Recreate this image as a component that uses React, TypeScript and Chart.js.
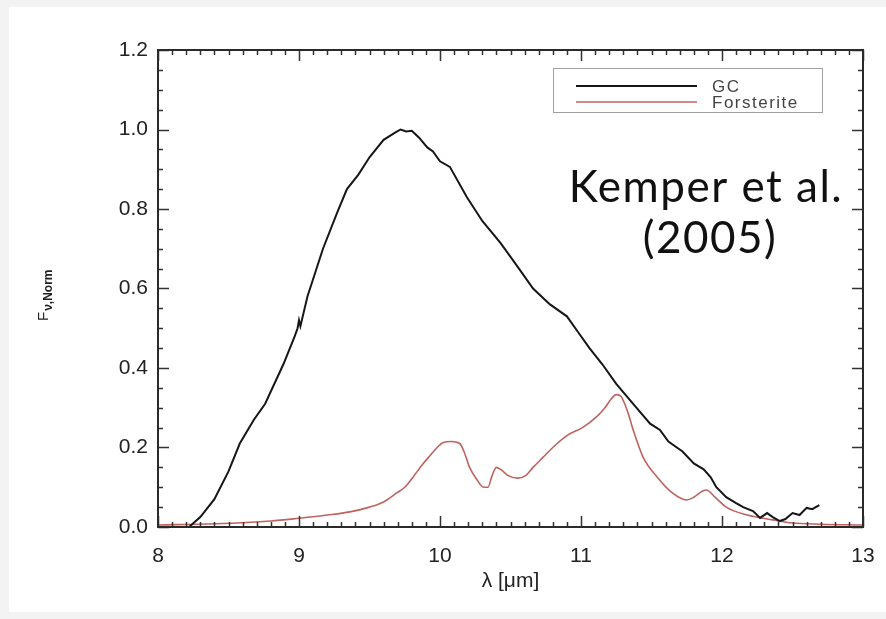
import React, { useEffect, useRef } from 'react';
import { Chart, registerables } from 'chart.js';

Chart.register(...registerables);

const gcWavelength = [
  8.22, 8.3, 8.4, 8.5, 8.58, 8.68, 8.76, 8.89, 8.97, 8.99, 9.0, 9.01, 9.06, 9.17, 9.27, 9.34, 9.42, 9.5,
  9.6, 9.69, 9.72, 9.76, 9.8, 9.85, 9.91, 9.95, 10.0, 10.07, 10.19, 10.3, 10.43, 10.55, 10.66, 10.78,
  10.9, 10.98, 11.06, 11.15, 11.25, 11.37, 11.49, 11.56, 11.62, 11.72, 11.8, 11.87, 11.92, 11.96, 12.03,
  12.1, 12.15, 12.22, 12.27, 12.32, 12.36, 12.41, 12.45, 12.5, 12.55, 12.6, 12.64, 12.69,
];
const gcFlux = [
  0.0, 0.025, 0.07, 0.14, 0.21, 0.27, 0.31, 0.41, 0.48, 0.5, 0.52, 0.505, 0.58, 0.7, 0.79, 0.85, 0.886, 0.93,
  0.974, 0.994, 1.0, 0.995, 0.997, 0.98, 0.955, 0.945, 0.92, 0.906, 0.83, 0.77, 0.714, 0.655, 0.6, 0.56,
  0.53, 0.49, 0.45, 0.41, 0.36, 0.31, 0.26, 0.244, 0.215, 0.19, 0.16, 0.145, 0.125, 0.1, 0.075,
  0.06, 0.05, 0.04, 0.023, 0.035, 0.025, 0.015, 0.02, 0.035, 0.03, 0.048, 0.045, 0.055,
];

const forsteriteWavelength = [
  8.0, 8.4, 8.8, 9.0, 9.2, 9.36, 9.5, 9.6, 9.69, 9.75, 9.81, 9.87, 9.93, 9.98, 10.02, 10.08, 10.14, 10.17,
  10.21, 10.26, 10.31, 10.34, 10.37, 10.4, 10.43, 10.48, 10.55, 10.61, 10.66, 10.73, 10.8, 10.9, 11.01,
  11.11, 11.17, 11.21, 11.25, 11.28, 11.31, 11.34, 11.37, 11.44, 11.54, 11.65, 11.75, 11.8, 11.86, 11.89,
  11.95, 12.03, 12.18, 12.36, 12.5, 12.7, 13.0,
];
const forsteriteFlux = [
  0.005, 0.008, 0.015, 0.022, 0.03, 0.038, 0.05, 0.063, 0.085, 0.1, 0.126, 0.155, 0.18, 0.2, 0.212, 0.215, 0.21, 0.19,
  0.15, 0.12, 0.1, 0.1, 0.13, 0.15, 0.145, 0.13, 0.123, 0.13, 0.15, 0.175, 0.2, 0.23, 0.25,
  0.277, 0.3, 0.32, 0.333, 0.33, 0.31, 0.28, 0.244, 0.176, 0.126, 0.085, 0.068, 0.075, 0.09, 0.093,
  0.075, 0.05, 0.03, 0.018, 0.01, 0.007, 0.005,
];

const xTickValues = [8, 9, 10, 11, 12, 13];
const yTickValues = [0, 0.2, 0.4, 0.6, 0.8, 1.0, 1.2];
const seriesLabels = ['GC', 'Forsterite'];
const seriesColors = ['#161616', '#c0625e'];
const annotationLines = ['Kemper et al.', '(2005)'];
const xTitle = 'λ [μm]';
const yTitleMain = 'F';
const yTitleSub = 'ν,Norm';

const SANS = '"Liberation Sans", Arial, Helvetica, sans-serif';

export default function App() {
  const ref = useRef<HTMLCanvasElement>(null);

  useEffect(() => {
    if (!ref.current) return;

    const decor = {
      id: 'decor',
      beforeDraw(chart: any) {
        const ctx = chart.ctx;
        ctx.save();
        ctx.fillStyle = '#f3f3f3';
        ctx.fillRect(0, 0, chart.width, chart.height);
        ctx.fillStyle = '#ffffff';
        ctx.fillRect(9, 7, chart.width - 9, chart.height - 14);
        ctx.restore();
      },
      afterDraw(chart: any) {
        const ctx = chart.ctx;
        const { left, right, top, bottom } = chart.chartArea;
        const xs = chart.scales.x;
        const ys = chart.scales.y;
        ctx.save();

        // ticks (inward, mirrored)
        ctx.strokeStyle = '#333';
        ctx.lineWidth = 1.5;
        ctx.beginPath();
        for (let i = 0; i <= 50; i++) {
          const v = 8 + i * 0.1;
          const px = Math.round(xs.getPixelForValue(v)) + 0.5;
          const len = i % 10 === 0 ? 11 : 5;
          ctx.moveTo(px, bottom);
          ctx.lineTo(px, bottom - len);
          ctx.moveTo(px, top);
          ctx.lineTo(px, top + len);
        }
        for (let i = 0; i <= 24; i++) {
          const v = i * 0.05;
          const py = Math.round(ys.getPixelForValue(v)) + 0.5;
          const len = i % 4 === 0 ? 11 : 5;
          ctx.moveTo(left, py);
          ctx.lineTo(left + len, py);
          ctx.moveTo(right, py);
          ctx.lineTo(right - len, py);
        }
        ctx.stroke();

        // frame
        ctx.lineWidth = 2;
        ctx.strokeStyle = '#2a2a2a';
        ctx.strokeRect(left, top, right - left, bottom - top);

        // legend
        ctx.lineWidth = 1;
        ctx.strokeStyle = '#a0a0a0';
        ctx.strokeRect(553.5, 68.5, 269, 44);
        const rows = [86, 102];
        seriesLabels.forEach((lab, i) => {
          ctx.strokeStyle = seriesColors[i];
          ctx.lineWidth = i === 0 ? 2 : 1.6;
          ctx.beginPath();
          ctx.moveTo(576, rows[i]);
          ctx.lineTo(697, rows[i]);
          ctx.stroke();
          ctx.fillStyle = '#444';
          ctx.font = `17px ${SANS}`;
          (ctx as any).letterSpacing = '1.5px';
          ctx.textAlign = 'left';
          ctx.textBaseline = 'middle';
          ctx.fillText(lab, 712, rows[i] + 1);
          (ctx as any).letterSpacing = '0px';
        });

        // annotation
        ctx.fillStyle = '#111';
        ctx.font = '44px Lato, "Open Sans", sans-serif';
        (ctx as any).letterSpacing = '1.5px';
        ctx.textAlign = 'center';
        ctx.textBaseline = 'alphabetic';
        ctx.fillText(annotationLines[0], 706, 202);
        ctx.fillText(annotationLines[1], 710, 253);
        (ctx as any).letterSpacing = '0px';

        // x title
        ctx.fillStyle = '#222';
        ctx.font = `21px ${SANS}`;
        ctx.textAlign = 'center';
        ctx.textBaseline = 'middle';
        ctx.fillText(xTitle, (left + right) / 2, 581);

        // y title (rotated, with subscript)
        ctx.translate(48, 321);
        ctx.rotate(-Math.PI / 2);
        ctx.textAlign = 'left';
        ctx.textBaseline = 'alphabetic';
        ctx.font = `15px ${SANS}`;
        ctx.fillText(yTitleMain, 0, 0);
        const fw = ctx.measureText(yTitleMain).width;
        ctx.font = `bold 12px ${SANS}`;
        ctx.fillText(yTitleSub, fw + 1, 4);
        ctx.restore();
      },
    };

    const chart = new Chart(ref.current, {
      type: 'line',
      data: {
        datasets: [
          {
            label: seriesLabels[0],
            data: gcWavelength.map((x, i) => ({ x, y: gcFlux[i] })),
            borderColor: seriesColors[0],
            borderWidth: 2,
            pointRadius: 0,
            tension: 0,
          },
          {
            label: seriesLabels[1],
            data: forsteriteWavelength.map((x, i) => ({ x, y: forsteriteFlux[i] })),
            borderColor: seriesColors[1],
            borderWidth: 1.6,
            pointRadius: 0,
            cubicInterpolationMode: 'monotone',
          },
        ],
      },
      options: {
        animation: false,
        responsive: false,
        layout: { padding: { top: 50, right: 23, left: 0, bottom: 0 } },
        plugins: { legend: { display: false }, tooltip: { enabled: false } },
        scales: {
          x: {
            type: 'linear',
            min: 8,
            max: 13,
            afterFit: (s: any) => { s.height = 92; s.paddingLeft = 0; s.paddingRight = 0; },
            afterBuildTicks: (s: any) => { s.ticks = xTickValues.map((v) => ({ value: v })); },
            ticks: {
              padding: 17,
              maxRotation: 0,
              autoSkip: false,
              color: '#222',
              font: { family: SANS, size: 21 },
              callback: (v: any) => String(v),
            },
            grid: { display: false, drawTicks: false },
            border: { display: false },
          },
          y: {
            type: 'linear',
            min: 0,
            max: 1.2,
            afterFit: (s: any) => { s.width = 158; s.paddingTop = 0; s.paddingBottom = 0; },
            afterBuildTicks: (s: any) => { s.ticks = yTickValues.map((v) => ({ value: v })); },
            ticks: {
              padding: 10,
              autoSkip: false,
              color: '#222',
              font: { family: SANS, size: 21 },
              callback: (v: any) => Number(v).toFixed(1),
            },
            grid: { display: false, drawTicks: false },
            border: { display: false },
          },
        },
      },
      plugins: [decor],
    } as any);

    return () => chart.destroy();
  }, []);

  return (
    <div style={{ position: 'fixed', left: 0, top: 0, width: 886, height: 619 }}>
      <canvas ref={ref} width={886} height={619} style={{ display: 'block' }} />
    </div>
  );
}
